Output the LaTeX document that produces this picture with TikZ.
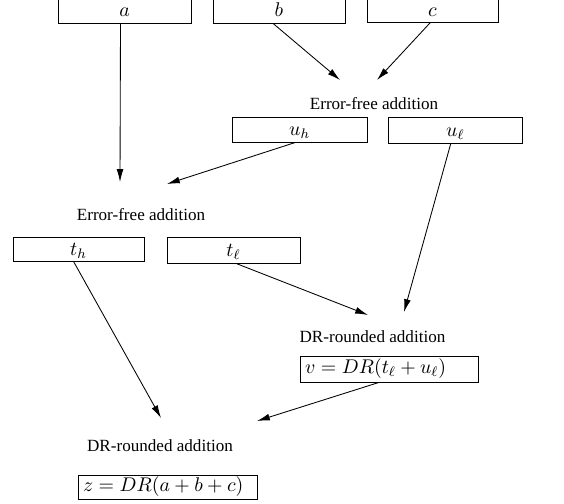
\RequirePackage{fix-cm}
\documentclass[tikz,border=0pt]{standalone}
\usepackage[no-math]{fontspec}
\setmainfont{Liberation Serif}
\usetikzlibrary{arrows.meta,calc}
\tikzset{
  box/.style={draw,line width=0.5pt,inner sep=0pt,text height=8pt,text depth=0.6pt,font=\fontsize{11.6}{14}\selectfont},
  leftbox/.style={draw,line width=0.5pt,inner xsep=3pt,inner ysep=0pt,align=left,font=\fontsize{11.6}{14}\selectfont},
  lbl/.style={inner sep=0pt,font=\fontsize{10}{12}\selectfont},
  arr/.style={line width=0.5pt,-{Latex[length=7.5pt,width=4pt]}}
}
\begin{document}
\begin{tikzpicture}[x=0.585pt,y=-0.585pt]
\useasboundingbox (0,0) rectangle (564,503);
% boxes
\node[box,minimum width=77.8pt,minimum height=14.6pt] (a) at (124.5,10.5) {$a$};
\node[box,minimum width=77.2pt,minimum height=14.6pt] (b) at (279,10.5) {$b$};
\node[box,minimum width=76.6pt,minimum height=14.0pt] (c) at (432.5,10) {$c$};
\node[box,minimum width=79.0pt,minimum height=14.6pt] (uh) at (299.5,129.5) {$u_h$};
\node[box,minimum width=78.4pt,minimum height=15.2pt] (ul) at (455.3,130) {$u_\ell$};
\node[box,minimum width=76.6pt,minimum height=14.0pt] (th) at (78.5,249) {$t_h$};
\node[box,minimum width=77.8pt,minimum height=15.2pt] (tl) at (233.5,250) {$t_\ell$};
\node[leftbox,text width=98.1pt,minimum height=15.2pt] (v) at (389,369) {$v = DR(t_\ell + u_\ell)$};
\node[leftbox,text width=98.7pt,minimum height=14.0pt] (z) at (167.5,487) {$z = DR(a + b + c)$};
% labels
\node[lbl] (ef1) at (374,104) {Error-free addition};
\node[lbl] (ef2) at (141,215) {Error-free addition};
\node[lbl] (dr1) at (372.5,337) {DR-rounded addition};
\node[lbl] (dr2) at (160,446) {DR-rounded addition};
% arrow ends
\coordinate (ea) at (120,182);
\coordinate (eb) at (340,80);
\coordinate (ec) at (377,80);
\coordinate (euh) at (167,184);
\coordinate (eul) at (404,312);
\coordinate (etl) at (368,315);
\coordinate (eth) at (161,418);
\coordinate (ev) at (257,421);
% arrows
\draw[arr] ($(a.south)+(-4,0)$) -- (ea);
\draw[arr] ($(b.south)+(-6,0)$) -- (eb);
\draw[arr] ($(c.south)+(-2,0)$) -- (ec);
\draw[arr] ($(uh.south)+(-4,0)$) -- (euh);
\draw[arr] ($(ul.south)+(-4.5,0)$) -- (eul);
\draw[arr] ($(tl.south)+(2.5,0)$) -- (etl);
\draw[arr] ($(th.south)+(-5,0)$) -- (eth);
\draw[arr] ($(v.south)+(-10,0)$) -- (ev);
\end{tikzpicture}
\end{document}
